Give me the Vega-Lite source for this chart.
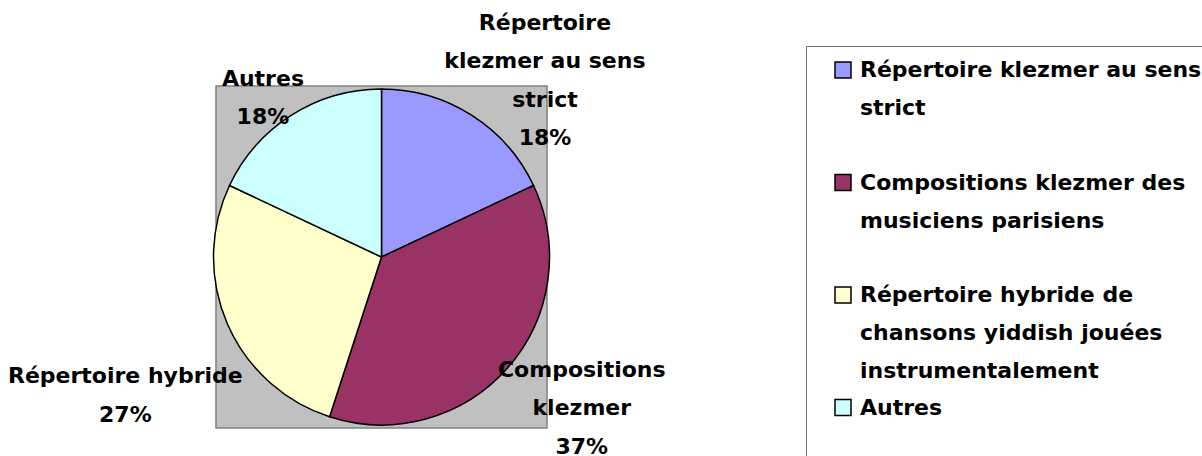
{
  "$schema": "https://vega.github.io/schema/vega-lite/v6.json",
  "width": 331,
  "height": 342,
  "autosize": {"type": "none"},
  "padding": {"left": 216, "top": 86, "right": 655, "bottom": 28},
  "background": "white",
  "view": {"fill": "#C0C0C0", "stroke": "#808080", "strokeWidth": 1.5},
  "config": {"font": "DejaVu Sans"},
  "data": {
    "values": [
      {"category": "Répertoire klezmer au sens|strict", "label": "Répertoire\nklezmer au sens\nstrict\n18%", "value": 18, "idx": 1},
      {"category": "Compositions klezmer des|musiciens parisiens", "label": "Compositions\nklezmer\n37%", "value": 37, "idx": 2},
      {"category": "Répertoire hybride de|chansons yiddish jouées|instrumentalement", "label": "Répertoire hybride\n27%", "value": 27, "idx": 3},
      {"category": "Autres", "label": "Autres\n18%", "value": 18, "idx": 4}
    ]
  },
  "layer": [
    {
      "mark": {"type": "arc", "outerRadius": 168, "stroke": "black", "strokeWidth": 1.5},
      "encoding": {
        "theta": {"field": "value", "type": "quantitative", "stack": true},
        "order": {"field": "idx", "type": "quantitative"},
        "color": {
          "field": "category",
          "type": "nominal",
          "scale": {
            "domain": ["Répertoire klezmer au sens|strict", "Compositions klezmer des|musiciens parisiens", "Répertoire hybride de|chansons yiddish jouées|instrumentalement", "Autres"],
            "range": ["#9999FF", "#993366", "#FFFFCC", "#CCFFFF"]
          },
          "legend": {
            "orient": "none",
            "legendX": 590,
            "legendY": -40,
            "title": null,
            "padding": 13,
            "symbolOffset": 13,
            "strokeColor": "#707070",
            "symbolType": "square",
            "symbolSize": 256,
            "symbolStrokeColor": "black",
            "symbolStrokeWidth": 1.5,
            "labelFont": "DejaVu Sans",
            "labelFontWeight": "bold",
            "labelFontSize": 22,
            "labelColor": "black",
            "labelBaseline": "top",
            "labelOffset": 6,
            "labelLimit": 600,
            "gridAlign": "all",
            "rowPadding": 14.5,
            "labelExpr": "datum.label == 'Autres' ? ['Autres', ''] : split(datum.label, '|')",
            "encode": {
              "labels": {"update": {"lineHeight": {"value": 38}, "dy": {"value": -10}}}
            }
          }
        }
      }
    },
    {
      "mark": {
        "type": "text",
        "fontSize": 22,
        "fontWeight": "bold",
        "lineHeight": 38.5,
        "lineBreak": "\n",
        "color": "black",
        "align": "center",
        "baseline": "alphabetic",
        "radius": {"expr": "datum.idx == 1 ? 236 : datum.idx == 2 ? 251 : datum.idx == 3 ? 290 : 197"},
        "dx": {"expr": "datum.idx == 1 ? 37 : datum.idx == 2 ? 12 : datum.idx == 3 ? 10 : -13"},
        "dy": {"expr": "datum.idx == 1 ? -28 : datum.idx == 2 ? -46 : datum.idx == 3 ? 11 : -5"}
      },
      "encoding": {
        "theta": {"field": "value", "type": "quantitative", "stack": true},
        "order": {"field": "idx", "type": "quantitative"},
        "detail": {"field": "category", "type": "nominal"},
        "text": {"field": "label", "type": "nominal"}
      }
    }
  ]
}
